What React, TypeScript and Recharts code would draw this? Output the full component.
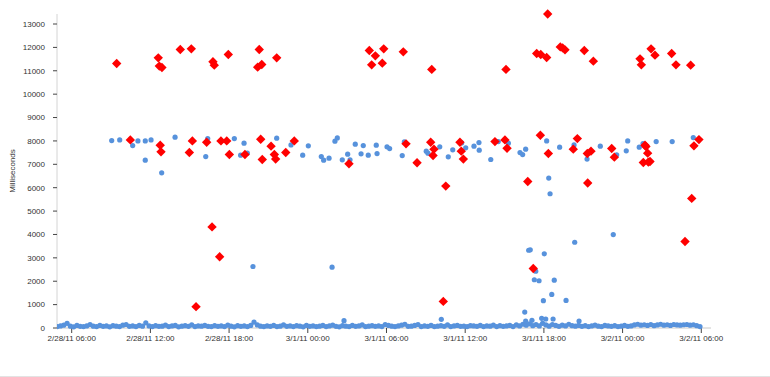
import { ScatterChart, Scatter, XAxis, YAxis } from 'recharts';

// hours counted from 2/28/11 00:00
const baseStartHour = 4.9;
const baseStepHour = 0.25;
const baselineMs = [
  60, 90, 120, 200, 80, 50, 110, 70, 60, 90, 150, 80, 60, 110, 70, 90,
  50, 100, 80, 60, 120, 150, 70, 90, 60, 110, 80, 220, 90, 60, 100, 70,
  80, 120, 60, 90, 110, 50, 80, 100, 70, 130, 60, 90, 80, 110, 70, 60,
  100, 70, 90, 60, 120, 80, 50, 100, 70, 90, 60, 110, 250, 130, 80, 60,
  90, 70, 110, 60, 80, 130, 70, 90, 60, 100, 80, 50, 110, 70, 90, 60,
  80, 110, 60, 90, 120, 70, 50, 100, 80, 60, 110, 70, 90, 130, 60, 80,
  100, 70, 90, 60, 150, 110, 80, 60, 90, 120, 160, 70, 80, 110, 150, 60,
  90, 70, 110, 60, 80, 100, 70, 130, 60, 90, 110, 70, 80, 60, 100, 90,
  70, 110, 60, 90, 80, 120, 60, 100, 70, 90, 110, 60, 130, 90, 160, 120,
  180, 100, 150, 90, 200, 130, 80, 150, 110, 70, 120, 90, 160, 100, 80, 110,
  70, 100, 60, 90, 120, 80, 60, 110, 90, 70, 100, 60, 80, 110, 70, 90,
  130, 160, 120, 140, 110, 150, 100, 130, 160, 120, 140, 110, 150, 130, 120, 140,
  150, 120, 140, 100, 60,
];

const blueScatter: [number, number][] = [
  [9.05, 8015], [9.66, 8044], [10.65, 7801], [11.05, 8001], [11.61, 8001], [12.05, 8044],
  [11.61, 7179], [12.86, 6637], [13.88, 8159], [16.37, 8100], [16.22, 7333], [18.4, 8100],
  [19.14, 7904], [18.88, 7392], [19.39, 7477], [21.63, 8117], [22.72, 7831], [24.04, 7789],
  [23.61, 7392], [26.07, 7989], [26.25, 8130], [25.03, 7333], [25.21, 7179], [25.62, 7264],
  [26.63, 7192], [27.04, 7435], [27.22, 7192], [27.62, 7861], [28.06, 7448], [28.23, 7801],
  [28.61, 7392], [29.22, 7818], [29.28, 7460], [30.04, 7746], [30.24, 7673], [31.2, 7375],
  [31.36, 7959], [33.03, 7563], [33.16, 7477], [34.06, 7746], [34.71, 7320], [35.05, 7618],
  [35.73, 7916], [36.04, 7703], [36.67, 7776], [37.05, 7929], [37.07, 7605], [37.95, 7205],
  [38.52, 7972], [39.29, 7904], [40.18, 7503], [40.38, 7418], [40.61, 7648], [42.21, 8001],
  [43.2, 7733], [44.3, 7831], [45.29, 7222], [45.57, 7563], [46.3, 7776], [47.55, 7405],
  [48.28, 7576], [48.39, 8001], [49.27, 7733], [49.56, 7887], [50.56, 7972], [51.78, 7972],
  [53.39, 8142],
  [19.82, 2630], [25.85, 2600], [26.76, 315], [34.18, 371], [42.37, 6412], [42.47, 5742],
  [47.29, 3994], [44.35, 3666], [40.84, 3325], [40.96, 3342], [42.03, 3172], [41.38, 2430],
  [41.27, 2063], [41.63, 2021], [42.79, 2046], [42.6, 1437], [41.96, 1168], [43.69, 1181],
  [40.54, 682], [40.61, 298], [41.09, 328], [41.83, 413], [42.14, 384], [42.7, 384],
  [44.68, 298],
];

const redPoints: [number, number][] = [
  [9.43, 11314], [12.6, 11553], [12.68, 11199], [12.88, 11143], [14.28, 11911], [15.12, 11937],
  [16.77, 11383], [16.87, 11241], [17.94, 11698], [20.3, 11911], [20.18, 11156], [20.49, 11271],
  [21.63, 11553], [28.69, 11868], [29.15, 11638], [29.79, 11937], [28.87, 11254], [29.68, 11327],
  [31.28, 11809], [33.45, 11058], [39.11, 11058], [42.29, 13428], [41.45, 11740], [41.76, 11698],
  [42.21, 11570], [43.25, 12022], [43.43, 11979], [43.61, 11894], [45.08, 11868], [45.77, 11412],
  [49.33, 11510], [49.43, 11254], [50.17, 11937], [50.47, 11668], [51.74, 11740], [52.07, 11254],
  [53.19, 11241],
  [10.47, 8044], [12.75, 7818], [12.81, 7533], [15.2, 8001], [14.97, 7503], [16.29, 7946],
  [17.38, 8001], [17.82, 8001], [18.02, 7418], [19.21, 7418], [20.41, 8074], [21.2, 7776],
  [20.53, 7205], [21.45, 7418], [21.55, 7222], [22.97, 8001], [22.32, 7503], [27.14, 7021],
  [31.49, 7874], [32.33, 7064], [33.37, 7946], [33.62, 7648], [33.55, 7375], [35.6, 7946],
  [35.7, 7563], [35.86, 7222], [38.27, 7972], [39.03, 8044], [39.19, 7690], [41.73, 8245],
  [42.34, 7460], [44.55, 8100], [44.24, 7648], [45.31, 7460], [45.59, 7563], [47.17, 7673],
  [47.37, 7307], [49.71, 7818], [49.78, 7759], [49.91, 7477], [49.58, 7077], [49.96, 7094],
  [50.09, 7120], [53.44, 7789], [53.82, 8057],
  [16.7, 4323], [17.28, 3044], [15.48, 912], [34.52, 6068], [34.33, 1138], [40.77, 6267],
  [45.34, 6198], [53.27, 5542], [52.76, 3696], [41.19, 2545],
];

const xTicks = [6, 12, 18, 24, 30, 36, 42, 48, 54];
const yTicks = [0, 1000, 2000, 3000, 4000, 5000, 6000, 7000, 8000, 9000, 10000, 11000, 12000, 13000];
const dayLabels = ['2/28/11', '3/1/11', '3/2/11'];

const blueData = [
  ...baselineMs.map((v, i) => ({ x: baseStartHour + i * baseStepHour, y: v })),
  ...blueScatter.map(([x, y]) => ({ x, y })),
];
const redData = redPoints.map(([x, y]) => ({ x, y }));

function formatHour(h: number) {
  const day = Math.floor(h / 24);
  const hr = h - day * 24;
  return `${dayLabels[day]} ${String(hr).padStart(2, '0')}:00`;
}

const font = { fontFamily: '"Liberation Sans", Arial, sans-serif', fontSize: 8, fill: '#333' };

const BlueDot = (props: any) => <circle cx={props.cx} cy={props.cy} r={2.6} fill="#5792dc" />;

const RedDiamond = (props: any) => {
  const { cx, cy } = props;
  const s = 4.7;
  return (
    <polygon
      points={`${cx},${cy - s} ${cx + s},${cy} ${cx},${cy + s} ${cx - s},${cy}`}
      fill="#ff0000"
    />
  );
};

export default function App() {
  return (
    <div style={{ position: 'absolute', left: 0, top: 0, width: 770, height: 377, background: '#fff' }}>
      <ScatterChart width={770} height={377} margin={{ top: 14, right: 59, bottom: 0, left: 0 }}>
        <XAxis
          type="number"
          dataKey="x"
          domain={[4.88, 54.74]}
          allowDataOverflow
          ticks={xTicks}
          interval={0}
          tickFormatter={formatHour}
          height={49}
          tickSize={5}
          tickMargin={2}
          tick={font}
          tickLine={{ stroke: '#444' }}
          axisLine={{ stroke: '#c8c8c8' }}
        />
        <YAxis
          type="number"
          dataKey="y"
          domain={[0, 13428]}
          ticks={yTicks}
          interval={0}
          width={57}
          tickSize={4}
          tickMargin={8}
          tick={font}
          tickLine={{ stroke: '#444' }}
          axisLine={{ stroke: '#d4d4d4' }}
          label={{
            value: 'Milliseconds',
            angle: -90,
            position: 'insideLeft',
            offset: 12,
            style: { textAnchor: 'middle', fontFamily: '"Liberation Sans", Arial, sans-serif', fontSize: 8, fill: '#333' },
          }}
        />
        <XAxis xAxisId="top" orientation="top" type="number" height={0} tick={false} tickLine={false} axisLine={{ stroke: '#e6e6e6' }} />
        <YAxis yAxisId="right" orientation="right" type="number" width={0} tick={false} tickLine={false} axisLine={{ stroke: '#e6e6e6' }} />
        <Scatter data={blueData} shape={BlueDot} isAnimationActive={false} />
        <Scatter data={redData} shape={RedDiamond} isAnimationActive={false} />
      </ScatterChart>
      <div style={{ position: 'absolute', left: 0, top: 376, width: 770, height: 1, background: '#e3e3e3' }} />
    </div>
  );
}
